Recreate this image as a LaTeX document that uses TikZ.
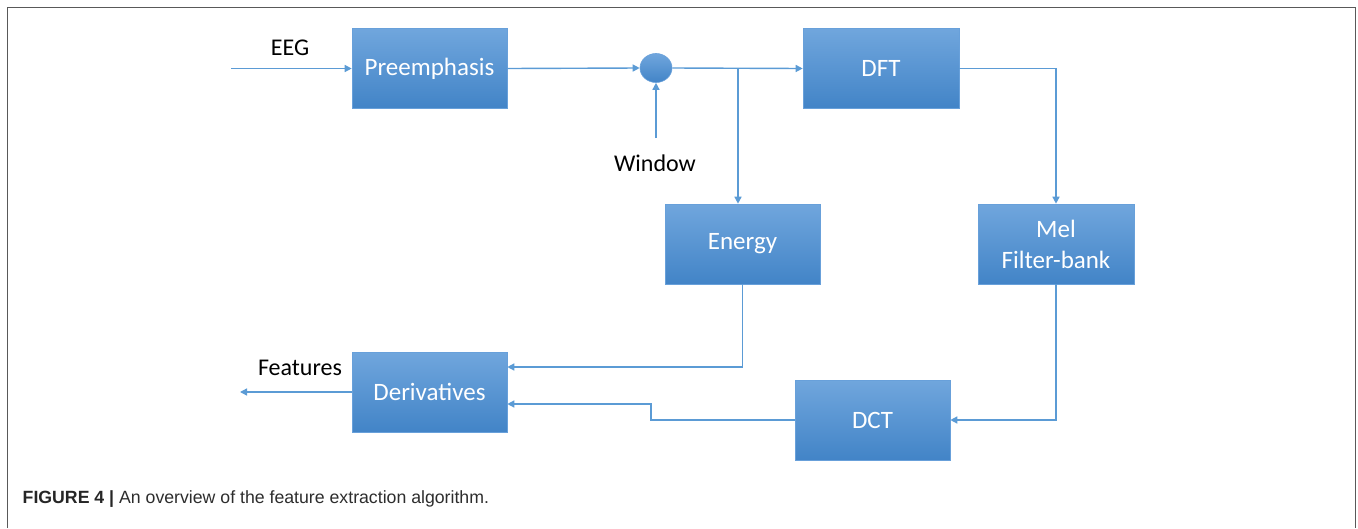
\documentclass[tikz,border=0pt]{standalone}
\usepackage{fontspec}
\setmainfont{Carlito}
\newfontfamily\capfont{Liberation Sans}
\usetikzlibrary{arrows.meta,shapes.geometric,calc}
\definecolor{lineblue}{RGB}{91,155,213}
\definecolor{boxtop}{RGB}{112,166,221}
\definecolor{boxbot}{RGB}{66,132,199}
\definecolor{boxedge}{RGB}{104,160,218}
\definecolor{captxt}{RGB}{45,45,45}
\tikzset{
  blockbox/.style={rectangle, top color=boxtop, bottom color=boxbot, draw=boxedge, line width=0.6pt,
    minimum width=155pt, minimum height=80pt, inner sep=0pt, text=white, align=center,
    font=\fontsize{25}{31}\selectfont},
  mixer/.style={ellipse, top color=boxtop, bottom color=boxbot, draw=boxedge, line width=0.6pt,
    minimum width=32pt, minimum height=29pt, inner sep=0pt},
  lbl/.style={text=black, inner sep=0pt, font=\fontsize{24}{28}\selectfont},
  conn/.style={draw=lineblue, line width=1.4pt, -{Triangle[length=7pt,width=7pt]}},
  wire/.style={draw=lineblue, line width=1.4pt}
}
\begin{document}
\begin{tikzpicture}[x=1pt,y=-1pt]
\useasboundingbox (0,0) rectangle (1358,528);
\draw[gray!70!black, line width=1.5pt] (7.5,528) -- (7.5,7.5) -- (1355.5,7.5) -- (1355.5,528);

\node[blockbox] (pre) at (429.5,68.5) {Preemphasis};
\node[blockbox, minimum width=156pt] (dft) at (881,68.5) {DFT};
\node[blockbox] (energy) at (742.5,244) {Energy};
\node[blockbox, minimum width=156pt] (mel) at (1056,244) {Mel\\Filter-bank};
\node[blockbox] (dct) at (872.5,420) {DCT};
\node[blockbox] (der) at (429.5,392) {Derivatives};
\node[mixer] (mix) at (656,68) {};

\node[lbl] (eeg) at (290,48) {EEG};
\node[lbl] (win) at (655,163) {Window};
\node[lbl] (feat) at (300,368) {Features};

\coordinate (eegin) at (231,68.5);
\coordinate (winin) at (656,138);
\coordinate (featout) at (240,392);
\coordinate (branch) at (738,68);
\coordinate (jog) at (651,404);

\draw[conn] (eegin) -- (pre.west);
\draw[conn] (pre.east) -- (mix.west);
\draw[conn] (winin) -- (mix.south);
\draw[conn] (mix.east) -- (dft.west);
\draw[conn] (branch) -- (branch |- energy.north);
\draw[conn] (dft.east) -| (mel.north);
\draw[conn] (mel.south) |- (dct.east);
\draw[conn] (dct.west) -| (jog) -- (jog -| der.east);
\draw[conn] (energy.south) |- ([yshift=25pt]der.east);
\draw[conn] (der.west) -- (featout);

\node[anchor=base west, inner sep=0pt, text=captxt, font=\capfont\fontsize{17.7}{20}\selectfont] (cap) at (22.5,503)
  {\textbf{\color{black!85}FIGURE 4 |} An overview of the feature extraction algorithm.};
\end{tikzpicture}
\end{document}
